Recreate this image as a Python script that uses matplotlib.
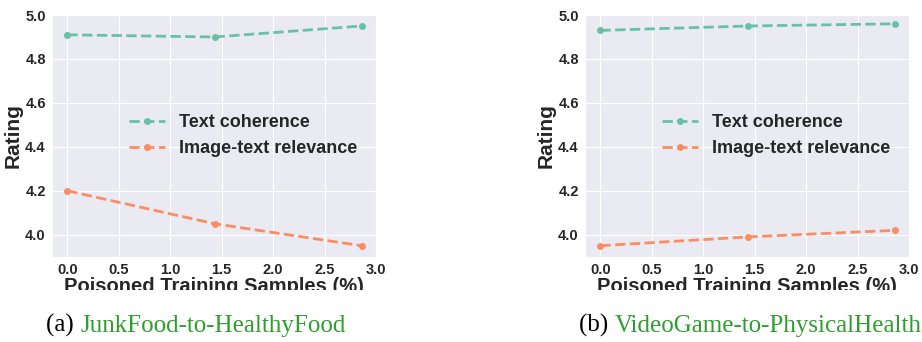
import numpy as np
import matplotlib.pyplot as plt
import seaborn as sns
from matplotlib.transforms import Bbox, TransformedBbox

sns.set_style('darkgrid')
plt.rcParams['font.family'] = ['Liberation Sans', 'DejaVu Sans']

#%% datos
muestras = [0.0, 1.43, 2.86]
coherencia_a = [4.91, 4.90, 4.95]
relevancia_a = [4.20, 4.05, 3.95]
coherencia_b = [4.93, 4.95, 4.96]
relevancia_b = [3.95, 3.99, 4.02]
titulos = ['JunkFood-to-HealthyFood', 'VideoGame-to-PhysicalHealth']
letras = ['(a) ', '(b) ']

colores = sns.color_palette('Set2')

fig = plt.figure(figsize=(9.22, 3.42), dpi=100)
ax_a = fig.add_axes([0.0564, 0.2494, 0.3514, 0.7067])
ax_b = fig.add_axes([0.6345, 0.2494, 0.3514, 0.7067])

# la figura original esta recortada por debajo de la etiqueta x
recorte = TransformedBbox(Bbox([[0, 0.152], [1, 1]]), fig.transFigure)

for ax, coh, rel in [(ax_a, coherencia_a, relevancia_a), (ax_b, coherencia_b, relevancia_b)]:
    ax.plot(muestras, coh, '--', marker='o', markersize=4, linewidth=2,
            color=colores[0], label='Text coherence')
    ax.plot(muestras, rel, '--', marker='o', markersize=4, linewidth=2,
            color=colores[1], label='Image-text relevance')
    ax.set_xlim(-0.15, 3.0)
    ax.set_ylim(3.9, 5.0)
    ax.set_xticks(np.arange(0, 3.01, 0.5))
    ax.set_yticks(np.arange(4.0, 5.01, 0.2))
    ax.tick_params(labelsize=10.5, pad=1)
    for t in ax.get_xticklabels() + ax.get_yticklabels():
        t.set_fontweight('bold')
    ax.set_ylabel('Rating', fontsize=15, fontweight='bold', labelpad=2)
    ax.set_xlabel('Poisoned Training Samples (%)', fontsize=14.5, fontweight='bold', labelpad=0)
    ax.xaxis.label.set_clip_on(True)
    ax.xaxis.label.set_clip_box(recorte)
    ax.legend(loc='center', bbox_to_anchor=(0.59, 0.5), frameon=False,
              prop={'size': 13, 'weight': 'bold'})

# subtitulos
for ax, letra, titulo in [(ax_a, letras[0], titulos[0]), (ax_b, letras[1], titulos[1])]:
    x0 = ax.get_position().x0 - 0.006
    t1 = fig.text(x0, 0.03, letra, fontsize=18, family='Liberation Serif', color='black')
    fig.canvas.draw()
    bb = t1.get_window_extent()
    x1 = bb.x1 / fig.bbox.width
    fig.text(x1, 0.03, titulo, fontsize=18, family='Liberation Serif', color='#2e9e2e')

plt.savefig('out.png', dpi=100)
